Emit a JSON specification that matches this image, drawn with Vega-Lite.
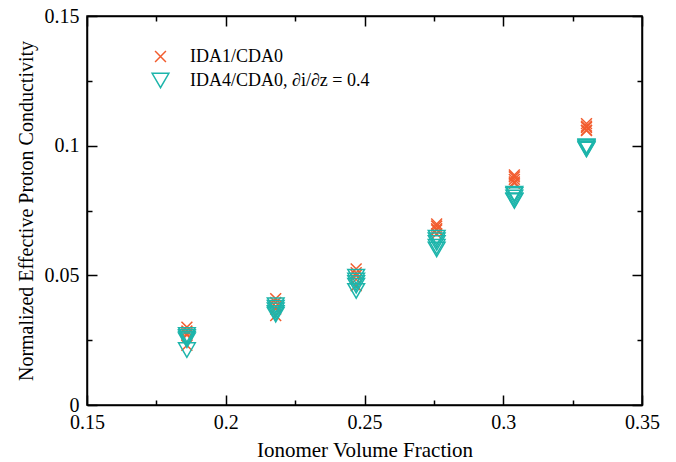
{
  "$schema": "https://vega.github.io/schema/vega-lite/v6.json",
  "width": 555,
  "height": 389,
  "autosize": {"type": "none"},
  "padding": {"left": 87, "top": 16, "right": 34, "bottom": 57},
  "background": "white",
  "config": {
    "view": {"stroke": "black", "strokeWidth": 1.5},
    "font": "Liberation Serif",
    "axis": {
      "domainColor": "black", "domainWidth": 1.5,
      "tickColor": "black", "tickWidth": 1.5,
      "labelFont": "Liberation Serif", "labelFontSize": 20, "labelColor": "black",
      "titleFont": "Liberation Serif", "titleFontSize": 20, "titleFontWeight": "normal", "titleColor": "black",
      "grid": false
    }
  },
  "data": {"values": [
    {"x": 0.186, "y": 0.0300, "series": "IDA1/CDA0"},
    {"x": 0.186, "y": 0.0285, "series": "IDA1/CDA0"},
    {"x": 0.186, "y": 0.0275, "series": "IDA1/CDA0"},
    {"x": 0.186, "y": 0.0270, "series": "IDA1/CDA0"},
    {"x": 0.186, "y": 0.0230, "series": "IDA1/CDA0"},
    {"x": 0.218, "y": 0.0410, "series": "IDA1/CDA0"},
    {"x": 0.218, "y": 0.0395, "series": "IDA1/CDA0"},
    {"x": 0.218, "y": 0.0380, "series": "IDA1/CDA0"},
    {"x": 0.218, "y": 0.0370, "series": "IDA1/CDA0"},
    {"x": 0.218, "y": 0.0345, "series": "IDA1/CDA0"},
    {"x": 0.247, "y": 0.0525, "series": "IDA1/CDA0"},
    {"x": 0.247, "y": 0.0510, "series": "IDA1/CDA0"},
    {"x": 0.247, "y": 0.0500, "series": "IDA1/CDA0"},
    {"x": 0.247, "y": 0.0485, "series": "IDA1/CDA0"},
    {"x": 0.247, "y": 0.0460, "series": "IDA1/CDA0"},
    {"x": 0.276, "y": 0.0698, "series": "IDA1/CDA0"},
    {"x": 0.276, "y": 0.0690, "series": "IDA1/CDA0"},
    {"x": 0.276, "y": 0.0680, "series": "IDA1/CDA0"},
    {"x": 0.276, "y": 0.0675, "series": "IDA1/CDA0"},
    {"x": 0.276, "y": 0.0660, "series": "IDA1/CDA0"},
    {"x": 0.304, "y": 0.0887, "series": "IDA1/CDA0"},
    {"x": 0.304, "y": 0.0880, "series": "IDA1/CDA0"},
    {"x": 0.304, "y": 0.0870, "series": "IDA1/CDA0"},
    {"x": 0.304, "y": 0.0860, "series": "IDA1/CDA0"},
    {"x": 0.304, "y": 0.0855, "series": "IDA1/CDA0"},
    {"x": 0.330, "y": 0.1085, "series": "IDA1/CDA0"},
    {"x": 0.330, "y": 0.1075, "series": "IDA1/CDA0"},
    {"x": 0.330, "y": 0.1070, "series": "IDA1/CDA0"},
    {"x": 0.330, "y": 0.1060, "series": "IDA1/CDA0"},
    {"x": 0.330, "y": 0.1058, "series": "IDA1/CDA0"},
    {"x": 0.186, "y": 0.0270, "series": "IDA4/CDA0, ∂i/∂z = 0.4"},
    {"x": 0.186, "y": 0.0262, "series": "IDA4/CDA0, ∂i/∂z = 0.4"},
    {"x": 0.186, "y": 0.0255, "series": "IDA4/CDA0, ∂i/∂z = 0.4"},
    {"x": 0.186, "y": 0.0250, "series": "IDA4/CDA0, ∂i/∂z = 0.4"},
    {"x": 0.186, "y": 0.0212, "series": "IDA4/CDA0, ∂i/∂z = 0.4"},
    {"x": 0.218, "y": 0.0385, "series": "IDA4/CDA0, ∂i/∂z = 0.4"},
    {"x": 0.218, "y": 0.0375, "series": "IDA4/CDA0, ∂i/∂z = 0.4"},
    {"x": 0.218, "y": 0.0365, "series": "IDA4/CDA0, ∂i/∂z = 0.4"},
    {"x": 0.218, "y": 0.0355, "series": "IDA4/CDA0, ∂i/∂z = 0.4"},
    {"x": 0.218, "y": 0.0348, "series": "IDA4/CDA0, ∂i/∂z = 0.4"},
    {"x": 0.247, "y": 0.0495, "series": "IDA4/CDA0, ∂i/∂z = 0.4"},
    {"x": 0.247, "y": 0.0480, "series": "IDA4/CDA0, ∂i/∂z = 0.4"},
    {"x": 0.247, "y": 0.0470, "series": "IDA4/CDA0, ∂i/∂z = 0.4"},
    {"x": 0.247, "y": 0.0460, "series": "IDA4/CDA0, ∂i/∂z = 0.4"},
    {"x": 0.247, "y": 0.0440, "series": "IDA4/CDA0, ∂i/∂z = 0.4"},
    {"x": 0.276, "y": 0.0645, "series": "IDA4/CDA0, ∂i/∂z = 0.4"},
    {"x": 0.276, "y": 0.0635, "series": "IDA4/CDA0, ∂i/∂z = 0.4"},
    {"x": 0.276, "y": 0.0625, "series": "IDA4/CDA0, ∂i/∂z = 0.4"},
    {"x": 0.276, "y": 0.0610, "series": "IDA4/CDA0, ∂i/∂z = 0.4"},
    {"x": 0.276, "y": 0.0600, "series": "IDA4/CDA0, ∂i/∂z = 0.4"},
    {"x": 0.304, "y": 0.0815, "series": "IDA4/CDA0, ∂i/∂z = 0.4"},
    {"x": 0.304, "y": 0.0810, "series": "IDA4/CDA0, ∂i/∂z = 0.4"},
    {"x": 0.304, "y": 0.0800, "series": "IDA4/CDA0, ∂i/∂z = 0.4"},
    {"x": 0.304, "y": 0.0790, "series": "IDA4/CDA0, ∂i/∂z = 0.4"},
    {"x": 0.304, "y": 0.0787, "series": "IDA4/CDA0, ∂i/∂z = 0.4"},
    {"x": 0.330, "y": 0.0998, "series": "IDA4/CDA0, ∂i/∂z = 0.4"},
    {"x": 0.330, "y": 0.0995, "series": "IDA4/CDA0, ∂i/∂z = 0.4"},
    {"x": 0.330, "y": 0.0990, "series": "IDA4/CDA0, ∂i/∂z = 0.4"},
    {"x": 0.330, "y": 0.0988, "series": "IDA4/CDA0, ∂i/∂z = 0.4"},
    {"x": 0.330, "y": 0.0985, "series": "IDA4/CDA0, ∂i/∂z = 0.4"}
  ]},
  "resolve": {"axis": {"x": "independent", "y": "independent"}},
  "layer": [
    {
      "mark": {"type": "point", "filled": false, "size": 280, "strokeWidth": 1.5, "opacity": 1},
      "encoding": {
        "x": {"field": "x", "type": "quantitative",
          "scale": {"domain": [0.15, 0.35], "nice": false, "zero": false},
          "axis": {"orient": "bottom", "title": "Ionomer Volume Fraction", "titleFontSize": 21,
            "values": [0.15, 0.175, 0.2, 0.225, 0.25, 0.275, 0.3, 0.325, 0.35],
            "labelExpr": "abs(datum.value*20 - round(datum.value*20)) < 0.001 ? format(datum.value, '~g') : ''",
            "tickSize": {"condition": {"test": "abs(datum.value*20 - round(datum.value*20)) < 0.001", "value": -10}, "value": -5},
            "labelPadding": 17, "titlePadding": 2, "labelFlush": false, "labelOverlap": false}},
        "y": {"field": "y", "type": "quantitative",
          "scale": {"domain": [0, 0.15], "nice": false, "zero": false},
          "axis": {"orient": "left", "title": "Normalized Effective Proton Conductivity",
            "values": [0, 0.025, 0.05, 0.075, 0.1, 0.125, 0.15],
            "labelExpr": "abs(datum.value*20 - round(datum.value*20)) < 0.001 ? format(datum.value, '~g') : ''",
            "tickSize": {"condition": {"test": "abs(datum.value*20 - round(datum.value*20)) < 0.001", "value": -10}, "value": -5},
            "labelPadding": 18, "titlePadding": 8, "labelFlush": false, "labelOverlap": false}},
        "color": {"field": "series", "type": "nominal",
          "scale": {"domain": ["IDA1/CDA0", "IDA4/CDA0, ∂i/∂z = 0.4"], "range": ["#F25C2E", "#1DB5AB"]},
          "legend": {"title": null, "orient": "none", "legendX": 64, "legendY": 31,
            "symbolSize": 280, "symbolStrokeWidth": 1.5, "labelFont": "Liberation Serif", "labelFontSize": 18,
            "labelColor": "black", "labelOffset": 20, "labelLimit": 0, "rowPadding": 4, "padding": 0, "symbolFillColor": "transparent"}},
        "shape": {"field": "series", "type": "nominal",
          "scale": {"domain": ["IDA1/CDA0", "IDA4/CDA0, ∂i/∂z = 0.4"], "range": ["M-0.65,-0.65L0.65,0.65M-0.65,0.65L0.65,-0.65", "triangle-down"]},
          "legend": {"title": null, "orient": "none", "legendX": 64, "legendY": 31,
            "symbolSize": 280, "symbolStrokeWidth": 1.5, "labelFont": "Liberation Serif", "labelFontSize": 18,
            "labelColor": "black", "labelOffset": 20, "labelLimit": 0, "rowPadding": 4, "padding": 0, "symbolFillColor": "transparent"}}
      }
    },
    {
      "mark": {"type": "point", "opacity": 0},
      "encoding": {
        "x": {"field": "x", "type": "quantitative",
          "scale": {"domain": [0.15, 0.35], "nice": false, "zero": false},
          "axis": {"orient": "top", "title": null, "labels": false,
            "values": [0.15, 0.175, 0.2, 0.225, 0.25, 0.275, 0.3, 0.325, 0.35],
            "tickSize": {"condition": {"test": "abs(datum.value*20 - round(datum.value*20)) < 0.001", "value": -10}, "value": -5}}},
        "y": {"field": "y", "type": "quantitative",
          "scale": {"domain": [0, 0.15], "nice": false, "zero": false},
          "axis": {"orient": "right", "title": null, "labels": false,
            "values": [0, 0.025, 0.05, 0.075, 0.1, 0.125, 0.15],
            "tickSize": {"condition": {"test": "abs(datum.value*20 - round(datum.value*20)) < 0.001", "value": -10}, "value": -5}}}
      }
    }
  ]
}
